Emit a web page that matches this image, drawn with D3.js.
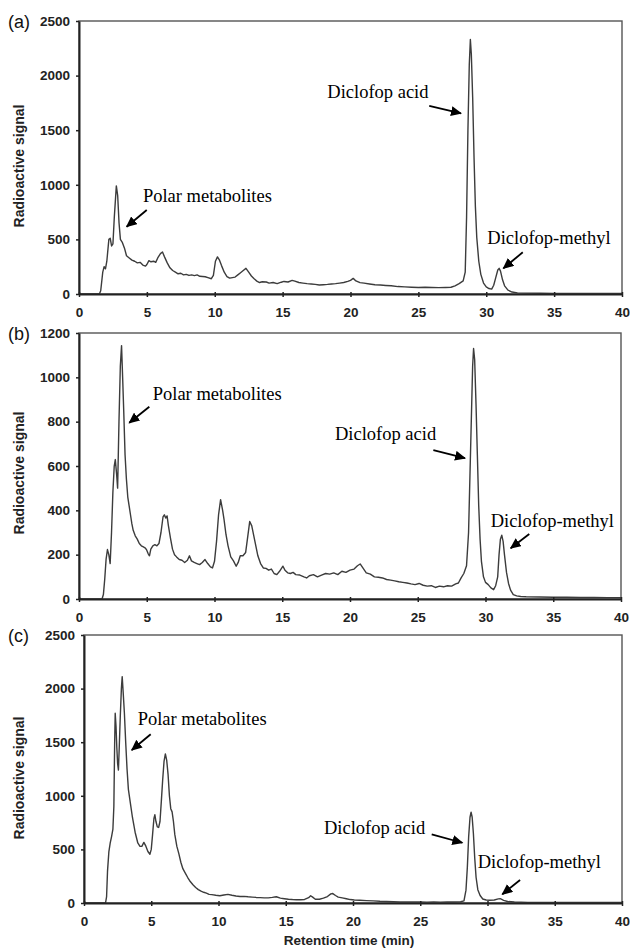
<!DOCTYPE html>
<html><head><meta charset="utf-8">
<script src="https://cdn.jsdelivr.net/npm/d3@7"></script>
<style>
html,body{margin:0;padding:0;background:#fff;}
svg{display:block;}
</style></head>
<body>
<svg id="chart" width="630" height="949"></svg>
<script>
// ---------- DATA ----------
const xTicks = [0, 5, 10, 15, 20, 25, 30, 35, 40];
const yTicksA = [0, 500, 1000, 1500, 2000, 2500];
const yTicksB = [0, 200, 400, 600, 800, 1000, 1200];
const yTicksC = [0, 500, 1000, 1500, 2000, 2500];
const panelLabels = ["(a)", "(b)", "(c)"];
const yAxisTitle = "Radioactive signal";
const xAxisTitle = "Retention time (min)";
const annotationTexts = ["Polar metabolites", "Diclofop acid", "Diclofop-methyl"];

// Panel (a)
const timeA = [0,1.5,1.6,1.75,1.85,1.95,2.05,2.2,2.3,2.4,2.5,2.6,2.75,2.85,2.95,3.05,3.2,3.35,3.5,3.7,3.9,4.1,4.3,4.5,4.7,4.9,5.0,5.15,5.3,5.5,5.65,5.8,6.0,6.15,6.3,6.5,6.7,6.9,7.1,7.3,7.5,7.7,7.9,8.1,8.3,8.5,8.7,8.9,9.1,9.3,9.5,9.75,9.9,10.05,10.2,10.35,10.5,10.7,10.9,11.1,11.3,11.5,11.7,11.9,12.1,12.3,12.5,12.7,12.9,13.1,13.3,13.5,13.8,14.0,14.3,14.6,14.9,15.1,15.4,15.7,15.9,16.2,16.5,16.8,17.1,17.4,17.7,18.0,18.3,18.6,18.9,19.2,19.5,19.8,20.0,20.2,20.4,20.7,21.0,21.4,21.8,22.2,22.6,23.0,23.5,24.0,24.5,25.0,25.5,26.0,26.5,27.0,27.4,27.7,28.0,28.3,28.45,28.55,28.65,28.75,28.83,28.9,29.0,29.1,29.2,29.3,29.45,29.6,29.8,30.0,30.2,30.4,30.55,30.7,30.85,30.95,31.05,31.2,31.35,31.6,31.9,32.3,33,34,35,36,37,38,39,40];
const signalA = [0,0,30,200,250,230,300,500,510,440,460,700,990,900,650,500,470,420,350,330,310,300,285,290,265,255,270,305,295,300,290,330,370,385,340,285,240,215,200,185,190,175,180,170,175,168,175,162,160,158,150,140,170,300,340,310,260,200,160,145,150,155,175,195,215,235,200,165,140,118,105,112,110,100,105,95,108,115,110,125,118,105,100,95,92,88,82,85,88,92,95,100,105,115,125,143,120,104,100,92,85,82,78,75,68,65,62,60,62,60,58,60,62,75,95,120,200,700,1500,2100,2330,2200,1800,1250,800,520,300,180,100,65,50,45,80,150,220,235,210,130,75,35,18,10,8,7,6,6,5,6,5,5];

// Panel (b)
const timeB = [0,1.7,1.8,1.9,2.0,2.1,2.2,2.3,2.4,2.5,2.6,2.68,2.78,2.85,2.95,3.05,3.14,3.22,3.3,3.4,3.5,3.6,3.7,3.8,3.9,4.0,4.15,4.3,4.45,4.6,4.75,4.9,5.0,5.1,5.2,5.3,5.45,5.6,5.75,5.9,6.05,6.2,6.3,6.4,6.5,6.6,6.75,6.9,7.05,7.2,7.4,7.6,7.8,8.0,8.15,8.3,8.5,8.7,8.9,9.1,9.3,9.5,9.7,9.85,10.0,10.15,10.3,10.45,10.6,10.7,10.85,11.0,11.2,11.4,11.6,11.75,11.9,12.1,12.3,12.45,12.6,12.75,12.9,13.05,13.2,13.4,13.6,13.8,14.0,14.2,14.4,14.6,14.8,15.05,15.2,15.4,15.6,15.8,16.0,16.3,16.6,16.8,17.0,17.3,17.6,17.9,18.2,18.5,18.8,19.1,19.4,19.7,20.0,20.3,20.55,20.75,20.95,21.2,21.5,21.8,22.1,22.4,22.7,23.0,23.3,23.6,23.9,24.2,24.5,24.8,25.1,25.4,25.7,26.0,26.3,26.6,26.9,27.2,27.5,27.8,28.0,28.2,28.4,28.6,28.75,28.85,28.95,29.05,29.12,29.2,29.3,29.4,29.5,29.6,29.7,29.85,30.0,30.2,30.4,30.6,30.75,30.9,31.0,31.1,31.2,31.3,31.4,31.55,31.7,31.85,32.05,32.3,32.6,33,34,35,36,37,38,39,40];
const signalB = [0,0,20,90,180,223,200,160,300,480,600,629,560,500,800,1050,1143,1000,850,650,540,460,420,380,340,310,285,270,250,240,235,230,220,205,195,225,240,245,240,250,300,370,380,365,375,330,275,225,200,190,178,175,165,175,195,172,165,160,155,165,178,160,145,140,170,260,380,448,400,360,290,240,190,172,148,165,195,195,210,280,350,330,285,240,195,160,140,138,130,135,115,110,125,148,130,118,115,120,110,108,100,95,105,110,100,108,115,112,118,110,125,120,130,135,150,158,140,118,112,100,98,95,88,85,82,78,75,72,68,65,70,62,58,60,52,58,55,60,58,68,72,95,115,150,300,550,800,1050,1130,1080,880,650,420,270,170,100,75,65,50,42,60,100,200,270,288,260,200,120,70,40,20,14,11,10,9,8,8,7,7,6,6];

// Panel (c)
const timeC = [0,1.6,1.68,1.75,1.85,1.95,2.05,2.15,2.22,2.28,2.32,2.38,2.44,2.5,2.56,2.62,2.7,2.78,2.84,2.92,3.0,3.1,3.2,3.3,3.45,3.6,3.8,4.0,4.15,4.3,4.45,4.6,4.75,4.9,5.0,5.1,5.2,5.27,5.35,5.45,5.55,5.65,5.75,5.85,5.95,6.05,6.15,6.25,6.35,6.45,6.55,6.65,6.75,6.9,7.05,7.2,7.35,7.5,7.7,7.9,8.1,8.3,8.5,8.7,8.9,9.1,9.3,9.5,9.8,10.1,10.4,10.7,11.0,11.3,11.6,11.9,12.2,12.5,12.8,13.1,13.4,13.7,14.0,14.3,14.6,14.9,15.2,15.5,15.8,16.1,16.4,16.7,16.85,17.0,17.2,17.5,17.8,18.1,18.35,18.5,18.7,18.9,19.2,19.5,19.8,20.1,20.5,21,21.5,22,22.5,23,23.5,24,24.5,25,25.5,26,26.5,27,27.5,28.0,28.25,28.4,28.5,28.6,28.7,28.78,28.86,28.95,29.05,29.15,29.28,29.45,29.65,29.9,30.15,30.5,30.8,30.95,31.2,31.5,32,33,34,35,36,37,38,39,40];
const signalC = [0,0,60,300,480,560,620,690,900,1500,1770,1650,1450,1300,1240,1450,1750,2000,2112,1950,1780,1500,1250,1060,930,800,660,560,530,528,565,530,480,455,500,640,790,823,760,710,705,760,950,1150,1320,1390,1330,1200,1000,880,850,760,640,530,460,380,320,285,240,200,170,145,125,110,100,92,80,78,72,68,75,80,72,65,60,62,58,55,52,50,48,48,52,58,45,40,35,32,30,30,33,50,68,55,35,35,45,60,85,88,70,55,48,40,32,28,25,22,20,16,14,12,10,10,9,9,8,9,8,9,10,12,20,120,330,620,800,848,800,650,420,240,124,70,37,28,25,28,38,40,25,14,9,6,5,5,5,4,4,4,4];

// Annotation anchors in data units [textTime, textSignal, arrowFromTime, arrowFromSignal, arrowToTime, arrowToSignal]
const annotA = [[4.71, 842, 4.99, 769, 3.51, 616], [18.29, 1795, 25.8, 1722, 28.14, 1655], [30.08, 458, 32.69, 382, 31.26, 235]];
const annotB = [[5.44, 898, 5.19, 867, 3.71, 795], [18.89, 717, 26.15, 672, 28.49, 635], [30.38, 323, 33.23, 293, 31.86, 229]];
const annotC = [[3.99, 1660, 4.96, 1574, 3.55, 1427], [17.84, 644, 25.85, 641, 28.13, 562], [29.27, 324, 32.42, 215, 31.1, 81]];

// ---------- LAYOUT ----------
const panels = [
  {label: panelLabels[0], time: timeA, signal: signalA, yTicks: yTicksA, annot: annotA, x0: 79, x1: 622, yTop: 21, yBot: 294, labelY: 28, titleY: 166},
  {label: panelLabels[1], time: timeB, signal: signalB, yTicks: yTicksB, annot: annotB, x0: 79, x1: 621, yTop: 333, yBot: 599, labelY: 340, titleY: 473},
  {label: panelLabels[2], time: timeC, signal: signalC, yTicks: yTicksC, annot: annotC, x0: 84, x1: 622, yTop: 635, yBot: 903, labelY: 642, titleY: 778}
];

const svg = d3.select("#chart");
const sans = "'Liberation Sans', Arial, Helvetica, sans-serif";
const serif = "'Liberation Serif', 'Times New Roman', serif";
const fmt = d3.format("d");

const defs = svg.append("defs");
defs.append("marker")
  .attr("id", "arrowhead")
  .attr("markerUnits", "userSpaceOnUse")
  .attr("markerWidth", 12).attr("markerHeight", 10)
  .attr("refX", 10).attr("refY", 5)
  .attr("orient", "auto")
  .append("path")
  .attr("d", "M0,0 L11,5 L0,10 Z")
  .attr("fill", "#000");

panels.forEach(p => {
  const x = d3.scaleLinear().domain([0, 40]).range([p.x0, p.x1]);
  const yMax = p.yTicks[p.yTicks.length - 1];
  const y = d3.scaleLinear().domain([0, yMax]).range([p.yBot, p.yTop]);
  const g = svg.append("g");

  // frame
  g.append("rect")
    .attr("x", p.x0).attr("y", p.yTop)
    .attr("width", p.x1 - p.x0).attr("height", p.yBot - p.yTop)
    .attr("fill", "none").attr("stroke", "#555").attr("stroke-width", 1.4);

  // trace
  const line = d3.line().x(d => x(d[0])).y(d => y(d[1])).curve(d3.curveLinear);
  g.append("path")
    .datum(d3.zip(p.time, p.signal))
    .attr("d", line)
    .attr("fill", "none")
    .attr("stroke", "#3c3c3c")
    .attr("stroke-width", 1.4)
    .attr("stroke-linejoin", "round");

  // y axis
  const yAxis = g.append("g").attr("transform", `translate(${p.x0},0)`)
    .call(d3.axisLeft(y).tickValues(p.yTicks).tickFormat(fmt).tickSizeInner(3).tickSizeOuter(0).tickPadding(6));
  yAxis.select(".domain").attr("stroke", "#222").attr("stroke-width", 2);
  yAxis.selectAll(".tick line").attr("stroke", "#222").attr("stroke-width", 1.5);
  yAxis.selectAll(".tick text")
    .style("font-family", sans).style("font-weight", "bold").style("font-size", "13.5px")
    .attr("fill", "#222");

  // x axis
  const xAxis = g.append("g").attr("transform", `translate(0,${p.yBot})`)
    .call(d3.axisBottom(x).tickValues(xTicks).tickFormat(fmt).tickSizeInner(3).tickSizeOuter(0));
  xAxis.select(".domain").attr("stroke", "#222").attr("stroke-width", 2);
  xAxis.selectAll(".tick line").attr("y1", -2).attr("y2", 3).attr("stroke", "#222").attr("stroke-width", 1.5);
  xAxis.selectAll(".tick text")
    .attr("y", 23).attr("dy", null)
    .style("font-family", sans).style("font-weight", "bold").style("font-size", "13.5px")
    .attr("fill", "#222");

  // y axis title
  svg.append("text")
    .attr("transform", `translate(24,${p.titleY}) rotate(-90)`)
    .attr("text-anchor", "middle")
    .style("font-family", sans).style("font-weight", "bold").style("font-size", "14px")
    .attr("fill", "#222")
    .text(yAxisTitle);

  // panel label
  svg.append("text")
    .attr("x", 8).attr("y", p.labelY)
    .style("font-family", sans).style("font-size", "18px")
    .attr("fill", "#111")
    .text(p.label);

  // annotations
  p.annot.forEach((a, i) => {
    g.append("text")
      .attr("x", x(a[0])).attr("y", y(a[1]))
      .style("font-family", serif).style("font-size", "18.5px")
      .attr("fill", "#000")
      .text(annotationTexts[i]);
    g.append("line")
      .attr("x1", x(a[2])).attr("y1", y(a[3]))
      .attr("x2", x(a[4])).attr("y2", y(a[5]))
      .attr("stroke", "#000").attr("stroke-width", 1.8)
      .attr("marker-end", "url(#arrowhead)");
  });
});

// x axis title
svg.append("text")
  .attr("x", 349).attr("y", 945)
  .attr("text-anchor", "middle")
  .style("font-family", sans).style("font-weight", "bold").style("font-size", "13.5px")
  .attr("fill", "#222")
  .text(xAxisTitle);
</script>
</body></html>
